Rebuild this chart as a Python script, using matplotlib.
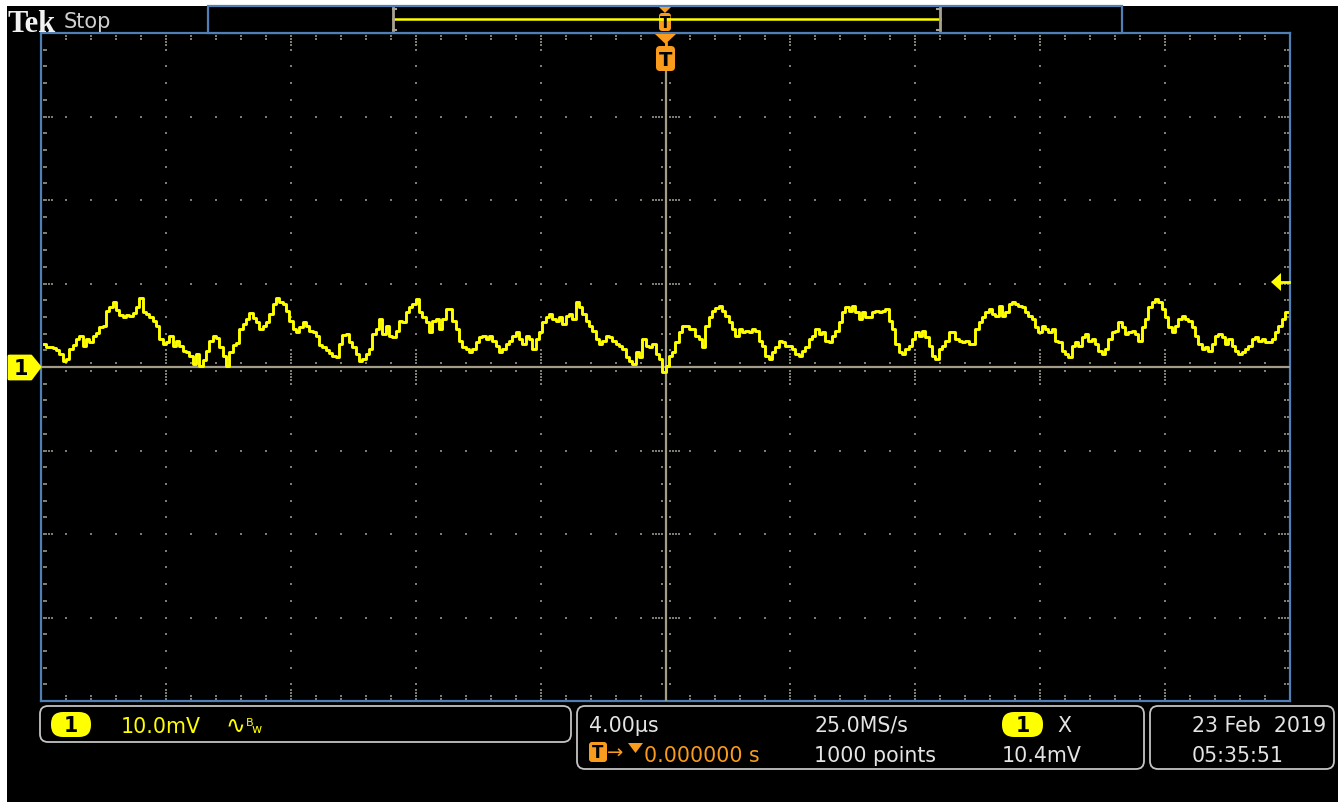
import numpy as np
import matplotlib
matplotlib.use("Agg")
import matplotlib.pyplot as plt
from matplotlib.patches import FancyBboxPatch, Polygon, Rectangle

# scope settings
mv_per_div = 10.0
us_per_div = 4.0
t_start_us = -19.89
t_end_us = 19.89

# channel 1 (mV), evenly spaced in time
ch1_mv = [
    2.8, 2.4, 2.4, 2.3, 2.0, 1.6, 0.7, 1.0, 2.2, 2.6,
    3.4, 3.7, 2.5, 3.4, 3.0, 3.7, 4.1, 4.8, 4.9, 6.7,
    7.2, 7.8, 6.8, 6.2, 6.0, 6.2, 6.1, 6.5, 7.2, 8.3,
    6.6, 6.4, 6.0, 5.5, 4.9, 3.4, 2.8, 3.0, 3.7, 2.5,
    3.1, 2.5, 1.9, 1.8, 1.3, 0.4, 1.6, 0.1, 0.8, 1.9,
    3.1, 3.7, 3.5, 2.4, 1.3, 0.1, 1.8, 2.6, 2.9, 4.6,
    5.2, 5.8, 6.5, 5.9, 5.4, 4.6, 4.9, 5.4, 6.4, 7.6,
    8.3, 7.8, 7.6, 6.7, 5.5, 4.6, 4.2, 4.8, 5.4, 4.9,
    4.3, 4.2, 3.7, 2.6, 2.4, 2.0, 1.7, 1.3, 1.2, 2.8,
    3.8, 4.0, 3.0, 2.4,
    1.6, 0.7, 1.0, 1.6, 2.2, 4.0, 4.6, 5.8, 4.0, 4.9,
    3.7, 3.6, 4.3, 5.5, 5.4, 6.6, 7.2, 7.6, 8.2, 6.6,
    6.0, 5.4, 4.2, 5.5, 5.8, 4.6, 5.8, 7.0, 7.0, 5.5,
    4.6, 3.1, 2.4, 2.2, 1.8, 2.2, 3.0, 3.6, 3.7, 3.4,
    3.7, 3.1, 2.5, 1.8, 2.2, 2.8, 3.1, 3.7, 4.2, 3.4,
    2.8, 3.7, 3.4, 2.2, 3.4, 4.2, 5.4, 6.0, 6.4, 5.8,
    5.5, 6.0, 5.2, 6.1, 6.4, 5.8, 7.8, 7.2, 6.4, 5.5,
    4.9, 4.3, 3.4, 2.8, 3.1, 3.7, 3.6, 3.1, 2.8, 2.5,
    2.2, 1.2, 0.7, 0.4, 1.8, 1.2, 3.4, 2.5, 2.4, 2.8,
    1.6, 1.0, -0.6, 0.1, 1.3,
    1.8, 3.0, 4.2, 4.9, 4.9, 4.6, 4.6, 3.7, 3.4, 2.4,
    4.9, 6.0, 6.7, 7.1, 7.3, 6.7, 6.1, 5.4, 4.6, 3.7,
    4.6, 4.2, 4.3, 4.2, 4.6, 4.3, 3.1, 2.5, 1.3, 1.0,
    1.8, 2.4, 3.1, 3.0, 2.5, 2.5, 2.2, 1.6, 1.3, 1.9,
    2.4, 3.4, 3.7, 4.6, 4.0, 4.2, 3.1, 3.0, 3.7, 4.3,
    5.4, 6.6, 7.2, 6.7, 7.3, 6.6, 5.8, 6.6, 6.0, 6.0,
    6.6, 6.7, 6.6, 6.7, 7.0, 5.5, 4.6, 2.8, 1.8, 1.6,
    2.2, 2.5, 3.4, 4.2, 3.7, 4.3, 3.6, 2.5, 1.3, 1.0,
    2.2, 2.5, 3.1, 4.2, 4.2, 3.4, 3.1, 3.0, 3.1, 2.8,
    2.8, 4.6, 5.4, 6.0, 6.6, 7.0, 6.4, 6.1, 7.3,
    6.1, 6.6, 7.6, 7.8, 7.6, 7.3, 7.2, 6.6, 6.1, 5.8,
    4.8, 4.2, 4.9, 4.6, 4.2, 4.6, 3.1, 3.0, 1.9, 1.6,
    1.2, 2.5, 3.0, 2.5, 3.6, 4.0, 3.1, 3.4, 2.8, 1.9,
    1.6, 2.2, 3.4, 4.2, 4.3, 5.4, 4.8, 4.0, 4.2, 4.3,
    4.0, 3.1, 4.8, 5.8, 7.2, 7.8, 8.2, 7.8, 7.0, 6.0,
    4.8, 4.2, 4.9, 5.8, 6.1, 5.8, 5.5, 4.8, 3.7, 2.8,
    2.2, 2.4, 1.9, 2.8, 3.7, 4.0, 3.6, 2.8, 3.4, 2.5,
    1.9, 1.6, 1.8, 2.2, 2.5, 3.4, 3.6, 3.1, 3.4, 3.0,
    3.0, 3.4, 4.2, 4.9, 5.8, 6.6,
]

# readouts
ch1_scale = "10.0mV"
horiz_scale = "4.00\u00b5s"
sample_rate = "25.0MS/s"
record_len = "1000 points"
trig_delay = "0.000000 s"
trig_level = "10.4mV"
date_str = "23 Feb  2019"
time_str = "05:35:51"

W, H = 1338, 803
YELLOW = "#ffff00"
ORANGE = "#f99b1c"
BLUE = "#4f7fb5"
TAN = "#a29c88"
DOT = "#7d7d72"
TXT = "#e4e4e4"
PANEL = "#c4c4c4"

fig = plt.figure(figsize=(W / 100, H / 100), dpi=100, facecolor="black")

# graticule
ax = fig.add_axes([41 / W, 1 - 702 / H, 1249 / W, 668 / H], zorder=1)
ax.set_facecolor("black")
t_half = 5 * us_per_div
v_half = 4 * mv_per_div
ax.set_xlim(-t_half, t_half)
ax.set_ylim(-v_half, v_half)
ax.set_xticks([])
ax.set_yticks([])
for sp in ax.spines.values():
    sp.set_color(BLUE)
    sp.set_linewidth(1.6)

px_t = 2 * t_half / 1249
px_v = 2 * v_half / 668
minor_t = np.linspace(-t_half, t_half, 51)[1:-1]
minor_v = np.linspace(-v_half, v_half, 41)[1:-1]


def is_major(val, step):
    return abs(val / step - round(val / step)) < 1e-6


dx, dy = [], []
for t in minor_t:
    major = is_major(t, us_per_div)
    if major and abs(t) > 1e-6:
        for v in minor_v:
            dx.append(t)
            dy.append(v)
    n = 4 if major else 2
    for k in range(n):
        off = (2.5 + 3 * k) * px_v
        dx += [t, t]
        dy += [v_half - off, -v_half + off]
    n = 4 if major else 1
    for k in range(n):
        off = (4 + 3 * k) * px_v
        dx += [t, t]
        dy += [off, -off]
for v in minor_v:
    major = is_major(v, mv_per_div)
    if major and abs(v) > 1e-6:
        for t in minor_t:
            dx.append(t)
            dy.append(v)
    n = 4 if major else 2
    for k in range(n):
        off = (2.5 + 3 * k) * px_t
        dx += [t_half - off, -t_half + off]
        dy += [v, v]
    n = 4 if major else 1
    for k in range(n):
        off = (4 + 3 * k) * px_t
        dx += [off, -off]
        dy += [v, v]
ax.scatter(dx, dy, s=1.8, marker="s", c=DOT, linewidths=0, zorder=2)

ax.axhline(0, color=TAN, lw=1.6, zorder=3)
ax.axvline(0, ymax=(668 - 38) / 668, color=TAN, lw=1.6, zorder=3)

t = np.linspace(t_start_us, t_end_us, len(ch1_mv))
ax.plot(t, ch1_mv, color=YELLOW, lw=2.1, drawstyle="steps-mid", zorder=5)

# screen furniture in pixel coordinates
ov = fig.add_axes([0, 0, 1, 1], zorder=3)
ov.set_xlim(0, W)
ov.set_ylim(H, 0)
ov.axis("off")
ov.patch.set_visible(False)


def rbox(x0, y0, x1, y1, r, **kw):
    ov.add_patch(FancyBboxPatch((x0 + r, y0 + r), x1 - x0 - 2 * r, y1 - y0 - 2 * r,
                                boxstyle=f"round,pad={r}", **kw))


ov.add_patch(Rectangle((0, 0), W, 7, fc="white", ec="none"))
ov.add_patch(Rectangle((0, 0), 7, H, fc="white", ec="none"))

ov.text(8, 32, "Tek", color="#f2f2f2", fontsize=22, fontweight="bold",
        family="Liberation Serif", va="baseline")
ov.text(64, 28, "Stop", color="#cfcfcf", fontsize=15, va="baseline")

# record overview bar
ov.add_patch(Rectangle((208, 7), 914, 27, fc="black", ec=BLUE, lw=1.6))
ov.plot([393, 940], [19.5, 19.5], color=YELLOW, lw=1.8)
for xb, d in [(393, 1), (940, -1)]:
    ov.plot([xb, xb], [9, 31], color="#a8a290", lw=2)
    ov.plot([xb, xb + 3 * d], [9.5, 9.5], color="#a8a290", lw=1.5)
    ov.plot([xb, xb + 3 * d], [30.5, 30.5], color="#a8a290", lw=1.5)
ov.add_patch(Polygon([(659, 8), (671, 8), (665, 14)], fc=ORANGE, ec="none"))
rbox(659, 14, 671, 32, 3, fc=ORANGE, ec="none")
ov.text(665, 24, "T", color="black", fontsize=11, fontweight="bold", ha="center", va="center")

# trigger position marker
ov.add_patch(Polygon([(655, 35), (676, 35), (665.5, 45)], fc=ORANGE, ec="none"))
ov.plot([665.5, 665.5], [44, 48], color=ORANGE, lw=2)
rbox(656, 47, 675, 72, 4, fc=ORANGE, ec="none")
ov.text(665.5, 60, "T", color="black", fontsize=14, fontweight="bold", ha="center", va="center")

# channel 1 ground marker and trigger level
ov.add_patch(Polygon([(9, 357), (31, 357), (40, 368), (31, 380), (9, 380)],
                     fc=YELLOW, ec=YELLOW, lw=2, joinstyle="round"))
ov.text(21, 369.5, "1", color="black", fontsize=15, fontweight="bold", ha="center", va="center")
ov.add_patch(Polygon([(1271, 283), (1281, 274), (1281, 292)], fc=YELLOW, ec="none"))
ov.plot([1280, 1289], [283, 283], color=YELLOW, lw=2)

# bottom readout panels
for x0, y0, x1, y1 in [(40, 707, 571, 743), (577, 707, 1144, 770), (1150, 707, 1334, 770)]:
    rbox(x0, y0, x1, y1, 8, fc="black", ec=PANEL, lw=1.3)

fs = 14.8
rbox(51, 713, 91, 738, 12, fc=YELLOW, ec="none")
ov.text(71, 726.5, "1", color="black", fontsize=fs, fontweight="bold", ha="center", va="center")
ov.text(121, 733, ch1_scale, color=YELLOW, fontsize=fs, va="baseline")
ov.text(225, 733, "\u223f", color=YELLOW, fontsize=17, va="baseline")
ov.text(246, 726, "B", color=YELLOW, fontsize=8, va="baseline")
ov.text(251, 733, "w", color=YELLOW, fontsize=9, va="baseline")

ov.text(589, 732, horiz_scale, color=TXT, fontsize=fs, va="baseline")
ov.text(814, 732, sample_rate, color=TXT, fontsize=fs, va="baseline")
rbox(1002, 713, 1043, 738, 12, fc=YELLOW, ec="none")
ov.text(1022.5, 726.5, "1", color="black", fontsize=fs, fontweight="bold", ha="center", va="center")
ov.text(1057, 732, "X", color=TXT, fontsize=fs, va="baseline")

rbox(589, 743, 607, 763, 3, fc=ORANGE, ec="none")
ov.text(598, 753.5, "T", color="black", fontsize=12, fontweight="bold", ha="center", va="center")
ov.text(607, 759, "\u2192", color=ORANGE, fontsize=14, va="baseline")
ov.add_patch(Polygon([(628, 744), (643, 744), (635.5, 754)], fc=ORANGE, ec="none"))
ov.text(644, 762, trig_delay, color=ORANGE, fontsize=fs, va="baseline")
ov.text(814, 762, record_len, color=TXT, fontsize=fs, va="baseline")
ov.text(1002, 762, trig_level, color=TXT, fontsize=fs, va="baseline")

ov.text(1192, 732, date_str, color=TXT, fontsize=fs, va="baseline")
ov.text(1192, 762, time_str, color=TXT, fontsize=fs, va="baseline")

fig.savefig("out.png", dpi=100, facecolor="black")
